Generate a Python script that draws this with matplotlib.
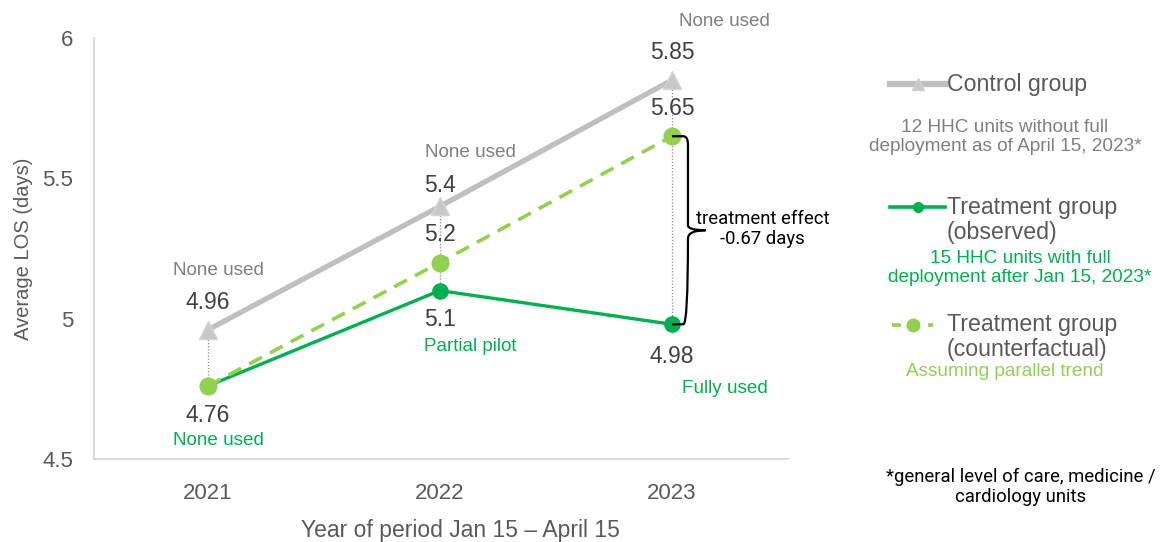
import matplotlib.pyplot as plt
from matplotlib.lines import Line2D
from matplotlib.path import Path
from matplotlib.patches import PathPatch

plt.rcParams['font.family'] = ['Liberation Sans', 'DejaVu Sans']

# data
years = ['2021', '2022', '2023']
control = [4.96, 5.4, 5.85]
observed = [4.76, 5.1, 4.98]
counterfactual = [4.76, 5.2, 5.65]
control_notes = ['None used', 'None used', 'None used']
observed_notes = ['None used', 'Partial pilot', 'Fully used']

GRAY = '#BFBFBF'
GREEN = '#00B050'
LGREEN = '#92D050'
DARK = '#404040'
MID = '#595959'
NOTE = '#7F7F7F'

fig = plt.figure(figsize=(11.61, 5.42), dpi=100)
ax = fig.add_axes([94 / 1161, 1 - 459 / 542, (788 - 94) / 1161, (459 - 38) / 542])
x = list(range(len(years)))

# dotted connectors between control and treatment
for xi, c, o in zip(x, control, observed):
    ax.plot([xi, xi], [c, o], color='#8C8C8C', lw=0.9, ls=(0, (1, 1.5)), zorder=1)

ax.plot(x, observed, color=GREEN, lw=2.4, marker='o', ms=11, zorder=3)
ax.plot(x, counterfactual, color=LGREEN, lw=2.6, ls=(0, (4, 2.5)), marker='o', ms=12, zorder=4)
ax.plot(x, control, color=GRAY, lw=3.8, marker='^', ms=13, mfc='#C8C8C8', mec='#D4D4D4',
        zorder=2)

ax.set_xlim(-0.49, 2.5)
ax.set_ylim(4.5, 6)
ax.set_yticks([4.5, 5, 5.5, 6])
ax.set_yticklabels(['4.5', '5', '5.5', '6'])
ax.set_xticks(x)
ax.set_xticklabels(years)
ax.tick_params(length=0, labelsize=16, labelcolor=MID)
ax.tick_params(axis='y', pad=15)
ax.tick_params(axis='x', pad=17)
for s in ['top', 'right']:
    ax.spines[s].set_visible(False)
for s in ['left', 'bottom']:
    ax.spines[s].set_color('#D9D9D9')
    ax.spines[s].set_linewidth(1.5)

ax.set_ylabel('Average LOS (days)', fontsize=14.5, color=MID)
ax.yaxis.set_label_coords(-0.088, 0.5)
ax.set_xlabel('Year of period Jan 15 \u2013 April 15', fontsize=16.5, color=MID)
ax.xaxis.set_label_coords(0.528, -0.142)

# value labels
ctrl_off = [(0, 20), (0, 15), (0, 20)]
ctrl_note_off = [(8, 43), (22, 39), (38, 42)]
obs_off = [(0, -21), (0, -21), (0, -23)]
obs_note_off = [(8, -39), (22, -40), (38, -46)]
for xi, v, off in zip(x, control, ctrl_off):
    ax.annotate(f'{v:g}', (xi, v), xytext=off, textcoords='offset points',
                ha='center', va='center', fontsize=16.5, color=DARK)
for xi, v, t, off in zip(x, control, control_notes, ctrl_note_off):
    ax.annotate(t, (xi, v), xytext=off, textcoords='offset points',
                ha='center', va='center', fontsize=13.6, color=NOTE)
for xi, v, off in zip(x[1:], counterfactual[1:], [(0, 20), (0, 20)]):
    ax.annotate(f'{v:g}', (xi, v), xytext=off, textcoords='offset points',
                ha='center', va='center', fontsize=16.5, color=DARK)
for xi, v, off in zip(x, observed, obs_off):
    ax.annotate(f'{v:g}', (xi, v), xytext=off, textcoords='offset points',
                ha='center', va='center', fontsize=16.5, color=DARK)
for xi, v, t, off in zip(x, observed, observed_notes, obs_note_off):
    ax.annotate(t, (xi, v), xytext=off, textcoords='offset points',
                ha='center', va='center', fontsize=13.6, color=GREEN)

# brace for treatment effect
top, bot = counterfactual[-1], observed[-1]
mid = (top + bot) / 2
x0, x1, x2 = 2.0, 2.069, 2.145
r = 0.03
verts = [(x0, top), (x1 - 0.02, top), (x1, top), (x1, top - r),
         (x1, mid + r * 0.6), (x1, mid), (x2, mid),
         (x2, mid), (x1, mid), (x1, mid - r),
         (x1, bot), (x1 - 0.02, bot), (x0, bot)]
codes = [Path.MOVETO, Path.LINETO, Path.CURVE3, Path.CURVE3,
         Path.LINETO, Path.CURVE3, Path.CURVE3,
         Path.MOVETO, Path.CURVE3, Path.CURVE3,
         Path.CURVE3, Path.CURVE3, Path.LINETO]
ax.add_patch(PathPatch(Path(verts, codes), fc='none', ec='black', lw=1.6, zorder=5,
                       clip_on=False))
ax.text(2.39, mid + 0.005, f'treatment effect\n{bot - top:.2f} days', ha='center',
        va='center', fontsize=13.3, color='black', family=['Roboto', 'DejaVu Sans'],
        linespacing=1.15)

# legend (drawn manually)
def sample(y, color, lw, ls, marker, ms, mfc=None, mec=None, x0=890, x1=945):
    fig.add_artist(Line2D([x0 / 1161, x1 / 1161], [1 - y / 542, 1 - y / 542],
                          color=color, lw=lw, ls=ls, transform=fig.transFigure))
    fig.add_artist(Line2D([(x0 + x1) / 2 / 1161], [1 - y / 542], color=color,
                          marker=marker, ms=ms, mfc=mfc or color, mec=mec or color,
                          ls='none', transform=fig.transFigure))

def ftext(px, py, s, **kw):
    fig.text(px / 1161, 1 - py / 542, s, **kw)

sample(84, GRAY, 4.5, '-', '^', 8, '#C8C8C8', '#D0D0D0')
ftext(947, 84, 'Control group', fontsize=16.7, color=MID, va='center')
ftext(1005, 137, '12 HHC units without full\ndeployment as of April 15, 2023*',
      fontsize=13.7, color=NOTE, ha='center', va='center', linespacing=1.2)
sample(207, GREEN, 2.6, '-', 'o', 7)
ftext(947, 220, 'Treatment group\n(observed)', fontsize=16.7, color=MID, va='center',
      linespacing=1.1)
ftext(1020, 268, '15 HHC units with full\ndeployment after Jan 15, 2023*',
      fontsize=13.7, color=GREEN, ha='center', va='center', linespacing=1.1)
sample(325, LGREEN, 2.6, (0, (2.5, 2.5)), 'o', 9, x0=892, x1=933)
ftext(947, 337, 'Treatment group\n(counterfactual)', fontsize=16.7, color=MID,
      va='center', linespacing=1.1)
ftext(1005, 372, 'Assuming parallel trend', fontsize=13.7, color=LGREEN, ha='center',
      va='center')
ftext(1021, 487, '*general level of care, medicine /\ncardiology units', fontsize=13.3,
      color='black', ha='center', va='center', family=['Roboto', 'DejaVu Sans'],
      linespacing=1.2)

fig.savefig('out.png', dpi=100)
